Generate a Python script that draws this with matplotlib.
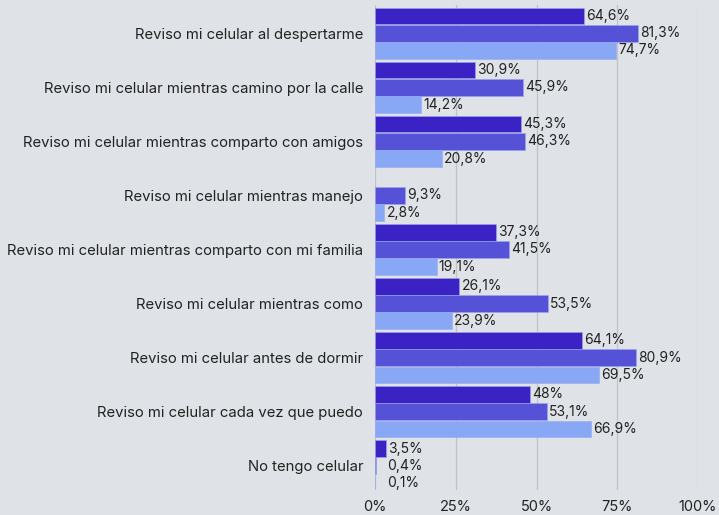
import numpy as np
import matplotlib.pyplot as plt

categorias = [
    "Reviso mi celular al despertarme",
    "Reviso mi celular mientras camino por la calle",
    "Reviso mi celular mientras comparto con amigos",
    "Reviso mi celular mientras manejo",
    "Reviso mi celular mientras comparto con mi familia",
    "Reviso mi celular mientras como",
    "Reviso mi celular antes de dormir",
    "Reviso mi celular cada vez que puedo",
    "No tengo celular",
]
serie_1 = [64.6, 30.9, 45.3, None, 37.3, 26.1, 64.1, 48.0, 3.5]
serie_2 = [81.3, 45.9, 46.3, 9.3, 41.5, 53.5, 80.9, 53.1, 0.4]
serie_3 = [74.7, 14.2, 20.8, 2.8, 19.1, 23.9, 69.5, 66.9, 0.1]
ticks = [0, 25, 50, 75, 100]

colores = ["#3a22c4", "#5552d8", "#88a8f5"]
fondo = "#dfe2e6"
texto = "#222222"

plt.rcParams['font.family'] = ['Inter', 'DejaVu Sans']

fig = plt.figure(figsize=(7.19, 5.15), dpi=100, facecolor=fondo)
ax = fig.add_axes([0.5216, 0.0485, 0.4492, 0.9415], facecolor=fondo)

y = np.arange(len(categorias))
h = 0.305
for i, (serie, color) in enumerate(zip([serie_1, serie_2, serie_3], colores)):
    pos = y + (i - 1) * 0.318
    for yy, v in zip(pos, serie):
        if v is None:
            continue
        ax.barh(yy, v, height=h, color=color, edgecolor="#9aa6f0", linewidth=0.4, zorder=3)
        etiqueta = (f"{v:.1f}".rstrip("0").rstrip(".") + "%").replace(".", ",")
        # labels of very small bars keep a minimum distance from the axis
        ax.annotate(etiqueta, (max(v, 3.0), yy), xytext=(1.5, 0), textcoords="offset points",
                    va="center", ha="left", fontsize=10, color=texto, zorder=4)

ax.set_xlim(0, 100)
ax.set_ylim(8.45, -0.52)
ax.set_yticks(y)
ax.set_yticklabels(categorias, fontsize=10.7, color=texto)
ax.set_xticks(ticks)
ax.set_xticklabels([f"{t}%" for t in ticks], fontsize=10.5, color=texto)
ax.tick_params(length=0)
ax.tick_params(axis="y", pad=8.5)
ax.tick_params(axis="x", pad=7)
ax.grid(axis="x", color="#bfc3c8", linewidth=0.9, zorder=0)
for s in ax.spines.values():
    s.set_visible(False)

fig.savefig("out.png", dpi=100, facecolor=fondo)
